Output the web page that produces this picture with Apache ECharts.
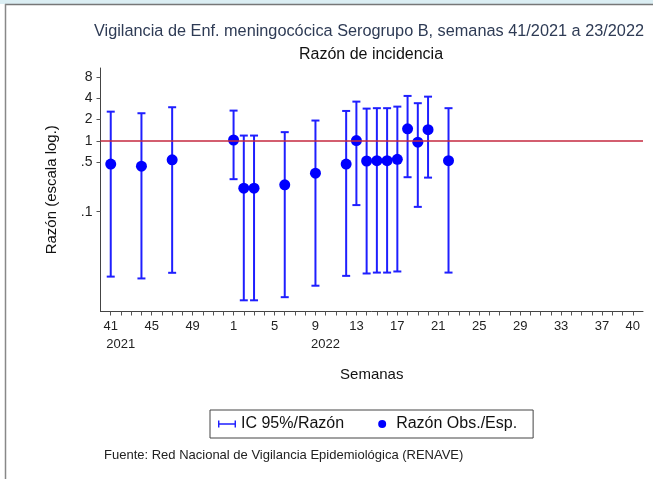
<!DOCTYPE html>
<html>
<head>
<meta charset="utf-8">
<script src="https://cdn.jsdelivr.net/npm/echarts@6/dist/echarts.min.js"></script>
<style>
html, body { margin: 0; padding: 0; background: #fff; }
#chart { width: 653px; height: 479px; }
</style>
</head>
<body>
<div id="chart"></div>
<script>
// semanas del eje: 41-52 de 2021 y 1-40 de 2022
const weeks = [41, 42, 43, 44, 45, 46, 47, 48, 49, 50, 51, 52,
  1, 2, 3, 4, 5, 6, 7, 8, 9, 10, 11, 12, 13, 14, 15, 16, 17, 18, 19, 20,
  21, 22, 23, 24, 25, 26, 27, 28, 29, 30, 31, 32, 33, 34, 35, 36, 37, 38, 39, 40];
const tickWeeks = [41, 45, 49, 1, 5, 9, 13, 17, 21, 25, 29, 33, 37, 40];
const yearLabels = { 41: '2021', 9: '2022' };
const yTicks = [8, 4, 2, 1, 0.5, 0.1];

// razon observada/esperada con su IC 95%
const obsWeeks = [41, 44, 47, 1, 2, 3, 6, 9, 12, 13, 14, 15, 16, 17, 18, 19, 20, 22];
const ratio  = [0.47, 0.44, 0.54, 1.03, 0.215, 0.215, 0.24, 0.35, 0.47, 1.01, 0.52, 0.525, 0.525, 0.55, 1.48, 0.96, 1.44, 0.525];
const ciLow  = [0.0121, 0.0114, 0.0137, 0.288, 0.0056, 0.0056, 0.0062, 0.009, 0.0124, 0.124, 0.0134, 0.0138, 0.0138, 0.0143, 0.307, 0.117, 0.303, 0.0138];
const ciHigh = [2.59, 2.46, 2.99, 2.68, 1.19, 1.19, 1.33, 1.94, 2.65, 3.59, 2.86, 2.9, 2.9, 3.05, 4.32, 3.41, 4.22, 2.9];

const FONT = 'Liberation Sans, Arial, sans-serif';
const BLUE = '#1f1fff';

// eje y en escala log: se trabaja con log10
const lg = Math.log10;
const idx = w => weeks.indexOf(w);
const ciData = obsWeeks.map((w, i) => [idx(w), lg(ciLow[i]), lg(ciHigh[i])]);
const ratioData = obsWeeks.map((w, i) => [idx(w), lg(ratio[i])]);

const chart = echarts.init(document.getElementById('chart'));
chart.setOption({
  backgroundColor: '#fff',
  animation: false,
  textStyle: { fontFamily: FONT },
  graphic: [
    { type: 'rect', shape: { x: 0, y: 0, width: 653, height: 4 }, style: { fill: '#dbeef3' } },
    { type: 'line', shape: { x1: 5, y1: 4.5, x2: 653, y2: 4.5 }, style: { stroke: '#777', lineWidth: 1.5 } },
    { type: 'line', shape: { x1: 5.5, y1: 4, x2: 5.5, y2: 479 }, style: { stroke: '#888', lineWidth: 1.5 } },
    {
      type: 'text', x: 369, y: 32,
      style: { text: 'Vigilancia de Enf. meningocócica Serogrupo B, semanas 41/2021 a 23/2022',
        font: '16.3px ' + FONT, fill: '#2e3b55', align: 'center', verticalAlign: 'middle' }
    },
    {
      type: 'text', x: 371, y: 55,
      style: { text: 'Razón de incidencia', font: '16px ' + FONT, fill: '#111',
        align: 'center', verticalAlign: 'middle' }
    },
    {
      type: 'text', x: 104, y: 455,
      style: { text: 'Fuente: Red Nacional de Vigilancia Epidemiológica (RENAVE)',
        font: '13px ' + FONT, fill: '#222', align: 'left', verticalAlign: 'middle' }
    }
  ],
  grid: { left: 100.5, right: 10, top: 68, bottom: 167.5 },
  legend: {
    left: 210, top: 410,
    padding: [6, 16, 6, 8],
    itemGap: 34,
    itemWidth: 18, itemHeight: 8,
    borderColor: '#444', borderWidth: 1,
    textStyle: { fontSize: 16, color: '#111', fontFamily: FONT },
    data: [
      { name: 'IC 95%/Razón', icon: 'path://M0,3.2H20V4.8H0Z M0,0H1.6V8H0Z M18.4,0H20V8H18.4Z' },
      { name: 'Razón Obs./Esp.', icon: 'circle' }
    ]
  },
  xAxis: {
    type: 'value', min: -1, max: 52,
    name: 'Semanas', nameLocation: 'middle', nameGap: 56,
    nameTextStyle: { fontSize: 15, color: '#111' },
    splitLine: { show: false },
    axisLine: { onZero: false, lineStyle: { color: '#444', width: 1 } },
    axisTick: { length: 4, lineStyle: { color: '#555' }, customValues: weeks.map((w, i) => i) },
    axisLabel: {
      customValues: tickWeeks.map(idx),
      fontSize: 13, color: '#222', margin: 6, lineHeight: 18,
      formatter: v => {
        const w = weeks[v];
        return yearLabels[w] ? w + '\n{y|' + yearLabels[w] + '}' : String(w);
      },
      rich: { y: { fontSize: 13, color: '#222', padding: [0, 0, 0, 20], lineHeight: 18 } }
    }
  },
  yAxis: {
    type: 'value', min: -2.41, max: 1.03,
    name: 'Razón (escala log.)', nameLocation: 'middle', nameGap: 41,
    nameTextStyle: { fontSize: 15, color: '#111' },
    splitLine: { show: false },
    axisLine: { show: true, onZero: false, lineStyle: { color: '#444', width: 1 } },
    axisTick: { show: true, length: 4, lineStyle: { color: '#555' }, customValues: yTicks.map(lg) },
    axisLabel: {
      customValues: yTicks.map(lg),
      fontSize: 14, color: '#222', margin: 8,
      formatter: v => String(Math.round(Math.pow(10, v) * 100) / 100).replace(/^0\./, '.')
    }
  },
  series: [
    {
      name: 'IC 95%/Razón',
      type: 'custom',
      itemStyle: { color: BLUE },
      encode: { x: 0, y: [1, 2] },
      data: ciData,
      renderItem: (params, api) => {
        const lo = api.coord([api.value(0), api.value(1)]);
        const hi = api.coord([api.value(0), api.value(2)]);
        const x = lo[0], w = 4;
        const style = { stroke: BLUE, lineWidth: 2 };
        return {
          type: 'group',
          children: [
            { type: 'line', shape: { x1: x, y1: lo[1], x2: x, y2: hi[1] }, style },
            { type: 'line', shape: { x1: x - w, y1: hi[1], x2: x + w, y2: hi[1] }, style },
            { type: 'line', shape: { x1: x - w, y1: lo[1], x2: x + w, y2: lo[1] }, style }
          ]
        };
      },
      z: 2
    },
    {
      name: 'Razón Obs./Esp.',
      type: 'scatter',
      symbolSize: 11,
      itemStyle: { color: '#0000ff', opacity: 1 },
      data: ratioData,
      z: 3,
      markLine: {
        silent: true,
        symbol: 'none',
        label: { show: false },
        lineStyle: { color: '#c4283f', width: 1.5, type: 'solid' },
        data: [{ yAxis: 0 }]
      }
    }
  ]
});
</script>
</body>
</html>
